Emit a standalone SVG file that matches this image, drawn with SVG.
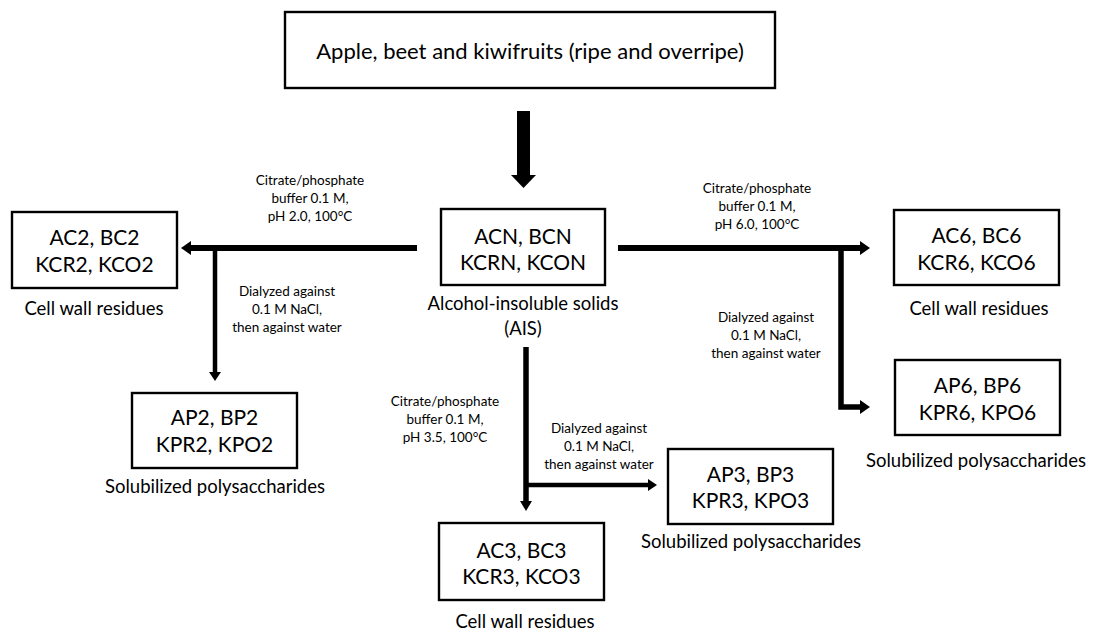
<svg xmlns="http://www.w3.org/2000/svg" width="1094" height="630" viewBox="0 0 1094 630">
<style>
.box{fill:#fff;stroke:#000;stroke-width:2.4}
.t{font-family:Lato,"Noto Sans",sans-serif;font-size:21px;fill:#000;text-anchor:middle}
.ti{font-family:Lato,"Noto Sans",sans-serif;font-size:22px;fill:#000;text-anchor:middle}
.cap{font-family:Lato,"Noto Sans",sans-serif;font-size:18.5px;fill:#000;text-anchor:middle}
.s{font-family:Lato,"Noto Sans",sans-serif;font-size:13.5px;fill:#000;text-anchor:middle}
.ln{stroke:#000;fill:none;stroke-linecap:butt}
.ah{fill:#000}
</style>
<rect width="1094" height="630" fill="#fff"/>
<g id="connectors">
  <rect x="517" y="111" width="13" height="65" class="ah"/>
  <polygon points="511,175 536,175 523.5,188" class="ah"/>
  <line x1="417" y1="248" x2="190" y2="248" class="ln" stroke-width="6"/>
  <polygon points="191,241 191,255 181,248" class="ah"/>
  <line x1="215" y1="248" x2="215" y2="373" class="ln" stroke-width="4.5"/>
  <polygon points="209,372 221,372 215,381" class="ah"/>
  <line x1="618" y1="248" x2="861" y2="248" class="ln" stroke-width="6"/>
  <polygon points="860,241 860,255 870,248" class="ah"/>
  <polyline points="841,246 841,407 861,407" class="ln" stroke-width="5.5"/>
  <polygon points="860,400 860,414 870,407" class="ah"/>
  <line x1="526" y1="347" x2="526" y2="502" class="ln" stroke-width="5.5"/>
  <polygon points="520,501 532,501 526,511" class="ah"/>
  <line x1="526" y1="485" x2="649" y2="485" class="ln" stroke-width="4.5"/>
  <polygon points="648,479 648,491 657,485" class="ah"/>
  <text class="s" x="310" y="185">Citrate/phosphate</text>
  <text class="s" x="310" y="203">buffer 0.1 M,</text>
  <text class="s" x="310" y="221">pH 2.0, 100°C</text>
  <text class="s" x="287" y="296">Dialyzed against</text>
  <text class="s" x="287" y="314">0.1 M NaCl,</text>
  <text class="s" x="287" y="332">then against water</text>
  <text class="s" x="757" y="193">Citrate/phosphate</text>
  <text class="s" x="757" y="211">buffer 0.1 M,</text>
  <text class="s" x="757" y="229">pH 6.0, 100°C</text>
  <text class="s" x="766" y="322">Dialyzed against</text>
  <text class="s" x="766" y="340">0.1 M NaCl,</text>
  <text class="s" x="766" y="358">then against water</text>
  <text class="s" x="445" y="406">Citrate/phosphate</text>
  <text class="s" x="445" y="424">buffer 0.1 M,</text>
  <text class="s" x="445" y="442">pH 3.5, 100°C</text>
  <text class="s" x="599" y="433">Dialyzed against</text>
  <text class="s" x="599" y="451">0.1 M NaCl,</text>
  <text class="s" x="599" y="469">then against water</text>
</g>
<g id="fruits">
  <rect class="box" x="285" y="12" width="490" height="76"/>
  <text class="ti" x="530" y="59">Apple, beet and kiwifruits (ripe and overripe)</text>
</g>
<g id="ais">
  <rect class="box" x="441" y="209" width="164" height="76"/>
  <text class="t" x="523" y="244">ACN, BCN</text>
  <text class="t" x="523" y="270">KCRN, KCON</text>
  <text class="cap" x="523" y="310">Alcohol-insoluble solids</text>
  <text class="cap" x="523" y="335">(AIS)</text>
</g>
<g id="c2">
  <rect class="box" x="12" y="212" width="165" height="76"/>
  <text class="t" x="94.5" y="245">AC2, BC2</text>
  <text class="t" x="94.5" y="272">KCR2, KCO2</text>
  <text class="cap" x="94" y="315">Cell wall residues</text>
</g>
<g id="p2">
  <rect class="box" x="132" y="393" width="165" height="75"/>
  <text class="t" x="214.5" y="425">AP2, BP2</text>
  <text class="t" x="214.5" y="452">KPR2, KPO2</text>
  <text class="cap" x="215" y="493">Solubilized polysaccharides</text>
</g>
<g id="c6">
  <rect class="box" x="894" y="210" width="165" height="75"/>
  <text class="t" x="976.5" y="243">AC6, BC6</text>
  <text class="t" x="976.5" y="270">KCR6, KCO6</text>
  <text class="cap" x="979" y="315">Cell wall residues</text>
</g>
<g id="p6">
  <rect class="box" x="895" y="360" width="165" height="75"/>
  <text class="t" x="977.5" y="393">AP6, BP6</text>
  <text class="t" x="977.5" y="420">KPR6, KPO6</text>
  <text class="cap" x="976" y="467">Solubilized polysaccharides</text>
</g>
<g id="c3">
  <rect class="box" x="439" y="523" width="165" height="77"/>
  <text class="t" x="521.5" y="558">AC3, BC3</text>
  <text class="t" x="521.5" y="584">KCR3, KCO3</text>
  <text class="cap" x="525" y="628">Cell wall residues</text>
</g>
<g id="p3">
  <rect class="box" x="668" y="449" width="165" height="75"/>
  <text class="t" x="750.5" y="482">AP3, BP3</text>
  <text class="t" x="750.5" y="508">KPR3, KPO3</text>
  <text class="cap" x="751" y="548">Solubilized polysaccharides</text>
</g>
</svg>
